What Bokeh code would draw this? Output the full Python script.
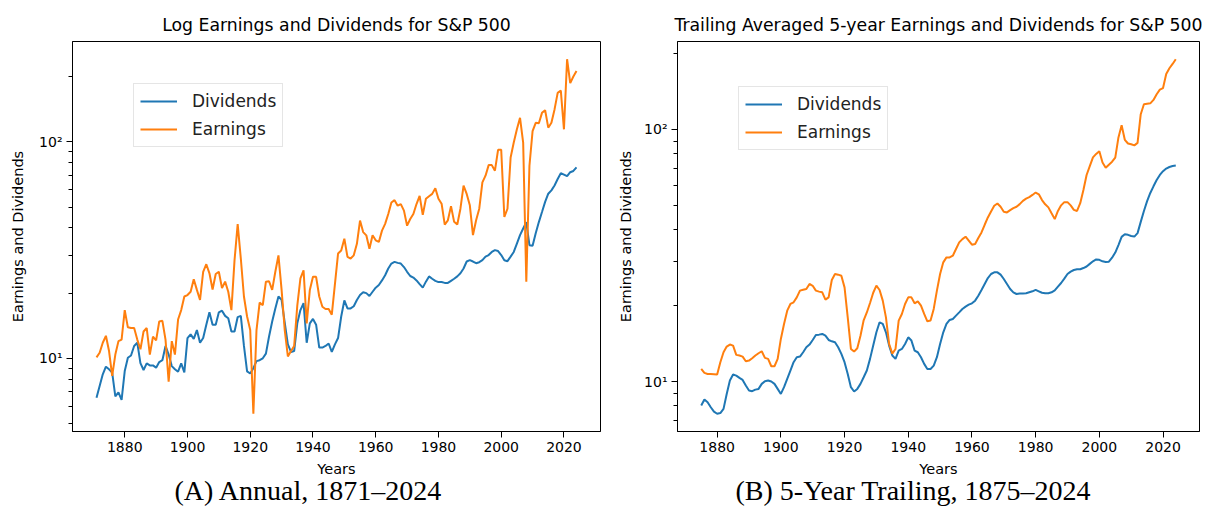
import math
from bokeh.plotting import figure
from bokeh.models import (Range1d, FixedTicker, SingleIntervalTicker, Legend,
                          LegendItem, Title)
from bokeh.layouts import row
from bokeh.embed import file_html
from bokeh.resources import INLINE

# ---------------- data ----------------
years_annual = list(range(1871, 2025))
dividends_annual = [
    6.57, 7.45, 8.43, 9.14, 8.89, 8.58, 6.66, 6.95, 6.43, 8.73,
    10.05, 10.3, 11.4, 11.8, 9.5, 8.83, 9.47, 9.27, 9.27, 9.05,
    9.6, 9.8, 11.4, 10.4, 9.2, 8.9, 8.67, 9.47, 8.6, 12.4,
    12.9, 12.3, 13.5, 11.8, 12.4, 14.3, 16.3, 14.3, 14.3, 16.3,
    16.6, 15.7, 15.3, 13.3, 13.3, 15.5, 15.7, 11.4, 8.7, 8.5,
    9.0, 9.7, 9.8, 10.0, 10.5, 12.6, 14.8, 17.0, 19.3, 18.6,
    14.6, 11.6, 10.7, 10.8, 14.5, 16.7, 18.0, 11.8, 14.5, 15.2,
    14.3, 11.2, 11.2, 11.4, 11.7, 10.7, 11.6, 12.4, 15.6, 18.5,
    17.0, 17.0, 17.4, 18.6, 19.6, 20.2, 20.0, 19.4, 20.3, 21.2,
    21.8, 22.9, 24.2, 26.0, 27.4, 27.9, 27.6, 27.4, 26.4, 25.1,
    24.0, 23.6, 22.9, 22.0, 21.2, 22.6, 23.9, 23.3, 22.8, 22.5,
    22.5, 22.3, 22.3, 22.8, 23.3, 23.9, 24.7, 26.0, 28.0, 28.4,
    28.0, 27.5, 27.8, 28.4, 29.5, 30.0, 31.0, 31.6, 31.3, 30.0,
    28.4, 28.1, 29.5, 31.0, 33.9, 37.1, 39.8, 42.6, 33.3, 33.1,
    37.8, 42.6, 47.4, 52.8, 57.6, 59.7, 62.9, 67.4, 71.6, 70.6,
    69.4, 72.4, 73.4, 76.2,
]
earnings_annual = [
    10.1, 10.6, 11.8, 12.7, 10.8, 8.3, 10.4, 12.0, 12.2, 16.7,
    13.9, 13.8, 13.8, 12.2, 11.0, 13.3, 13.8, 10.4, 12.6, 12.1,
    14.8, 14.9, 12.2, 7.8, 12.0, 10.4, 15.1, 16.7, 19.3, 19.6,
    20.3, 23.2, 20.7, 18.6, 25.1, 27.2, 24.7, 20.8, 24.5, 25.1,
    21.1, 22.6, 20.3, 16.7, 28.4, 41.7, 28.9, 19.3, 15.6, 13.5,
    5.54, 13.5, 18.1, 17.6, 22.6, 22.7, 20.7, 25.1, 29.9, 20.7,
    13.5, 10.2, 10.8, 11.4, 17.5, 23.4, 25.5, 14.5, 20.7, 23.8,
    23.8, 19.3, 17.3, 16.9, 16.9, 15.9, 22.0, 30.5, 31.5, 35.7,
    29.4, 28.9, 29.9, 33.8, 43.3, 38.3, 37.0, 32.1, 37.0, 35.1,
    34.5, 38.9, 41.8, 46.4, 52.5, 53.8, 50.7, 51.6, 48.1, 41.0,
    44.0, 46.4, 51.6, 56.3, 46.0, 54.6, 56.1, 57.5, 61.1, 54.6,
    51.8, 41.5, 43.4, 50.5, 42.7, 41.5, 49.1, 62.8, 57.5, 50.9,
    37.1, 43.4, 49.1, 65.0, 69.8, 78.1, 78.1, 73.6, 91.9, 91.9,
    45.0, 49.1, 84.7, 99.3, 114.3, 129.2, 99.3, 22.6, 77.6, 112.2,
    122.5, 122.0, 136.2, 140.2, 116.3, 122.5, 141.3, 168.4, 172.6, 114.3,
    241.0, 187.0, 200.6, 212.7,
]

years_trailing = list(range(1875, 2025))
dividends_trailing = [
    8.04, 8.49, 8.28, 7.91, 7.6, 7.45, 7.5, 7.79, 8.93, 10.09,
    10.66, 10.56, 10.34, 10.15, 9.64, 9.21, 9.16, 9.29, 9.35, 9.79,
    10.03, 10.09, 10.0, 9.79, 9.35, 8.93, 9.5, 10.25, 11.06, 11.93,
    12.49, 12.56, 13.07, 13.68, 14.02, 14.62, 15.31, 15.35, 15.45, 15.2,
    14.62, 14.44, 14.32, 13.68, 12.87, 11.93, 10.72, 9.5, 9.13, 9.35,
    9.79, 10.4, 11.06, 12.3, 13.89, 15.68, 17.18, 16.92, 15.68, 13.89,
    12.68, 12.3, 13.27, 13.47, 14.09, 14.98, 14.54, 13.27, 13.07, 12.49,
    11.75, 11.22, 11.22, 11.57, 12.49, 14.09, 15.68, 16.92, 17.55, 17.71,
    18.26, 18.82, 19.41, 19.83, 20.18, 20.43, 20.94, 21.91, 23.08, 24.38,
    25.74, 26.71, 27.12, 27.12, 26.55, 25.51, 24.38, 23.29, 22.59, 22.25,
    22.35, 22.35, 22.4, 22.6, 22.8, 23.1, 22.8, 22.5, 22.4, 22.4,
    22.6, 23.0, 23.8, 24.6, 25.6, 26.7, 27.3, 27.7, 27.9, 27.9,
    28.2, 28.6, 29.3, 30.0, 30.5, 30.4, 30.0, 29.8, 29.9, 31.0,
    32.5, 34.8, 37.5, 38.4, 38.2, 37.8, 37.6, 38.8, 43.0, 47.5,
    52.0, 56.0, 59.5, 63.0, 66.0, 68.3, 70.0, 71.0, 71.6, 71.9,
]
earnings_trailing = [
    11.22, 10.82, 10.72, 10.72, 10.7, 10.66, 11.93, 13.07, 13.76, 14.02,
    13.89, 12.76, 12.68, 12.56, 12.04, 12.11, 12.37, 12.68, 12.95, 13.19,
    12.41, 12.3, 11.5, 11.5, 12.3, 14.76, 16.92, 19.11, 20.31, 20.62,
    21.58, 22.94, 23.14, 23.28, 24.38, 23.99, 22.94, 22.74, 22.6, 21.14,
    21.58, 25.28, 26.71, 26.55, 26.3, 23.64, 17.98, 13.47, 13.15, 13.55,
    15.2, 17.5, 18.8, 20.5, 22.5, 24.0, 23.08, 20.94, 17.98, 14.09,
    12.9, 13.47, 17.45, 18.54, 20.31, 21.58, 21.58, 20.43, 20.81, 20.0,
    18.54, 17.34, 17.45, 19.41, 22.94, 26.71, 29.71, 31.09, 31.09, 31.57,
    33.55, 35.65, 36.73, 37.54, 36.2, 34.9, 35.12, 37.09, 39.05, 41.88,
    44.77, 47.3, 49.81, 50.88, 49.36, 47.15, 46.88, 47.86, 48.75, 49.36,
    50.57, 52.12, 53.2, 53.9, 55.0, 56.2, 55.3, 52.5, 50.5, 49.1,
    46.5, 44.1, 47.5, 50.0, 51.5, 51.5, 50.0, 48.0, 47.5, 51.0,
    57.5, 66.0, 71.5, 77.5, 80.0, 82.0, 74.0, 70.5, 72.5, 74.5,
    77.4, 93.0, 104.0, 91.0, 88.0, 87.4, 86.5, 88.5, 115.0, 126.0,
    126.5, 127.0, 131.0, 138.0, 144.0, 146.0, 166.0, 175.0, 182.0, 190.0,
]

series_labels = ["Dividends", "Earnings"]
titles = ["Log Earnings and Dividends for S&P 500",
          "Trailing Averaged 5-year Earnings and Dividends for S&P 500"]
captions = ["(A) Annual, 1871\u20132024", "(B) 5-Year Trailing, 1875\u20132024"]
x_label = "Years"
y_label = "Earnings and Dividends"

BLUE = "#1f77b4"
ORANGE = "#ff7f0e"
FONT = "DejaVu Sans"


def lin_range(vals):
    lo, hi = min(vals), max(vals)
    m = (hi - lo) * 0.05
    return lo - m, hi + m


def log_range(*series):
    lo = min(min(s) for s in series)
    hi = max(max(s) for s in series)
    a, b = math.log10(lo), math.log10(hi)
    m = (b - a) * 0.05
    return 10 ** (a - m), 10 ** (b + m)


def make_panel(years, divs, earns, title, caption, width, height,
               b_left, b_right, b_top, b_bottom, legend_loc, cap_offset,
               ylabel_standoff):
    x0, x1 = lin_range(years)
    y0, y1 = log_range(divs, earns)
    p = figure(width=width, height=height, y_axis_type="log",
               x_range=Range1d(x0, x1), y_range=Range1d(y0, y1),
               output_backend="svg", toolbar_location=None,
               min_border_left=b_left, min_border_right=b_right,
               min_border_top=b_top, min_border_bottom=b_bottom)
    p.background_fill_color = "white"
    p.border_fill_color = "white"
    p.outline_line_color = "black"
    p.outline_line_width = 1
    p.xgrid.visible = False
    p.ygrid.visible = False

    p.title.text = title
    p.title.text_font = FONT
    p.title.text_font_size = "17.3px"
    p.title.text_font_style = "normal"
    p.title.text_color = "black"
    p.title.align = "center"
    p.title.standoff = 14

    p.xaxis.ticker = SingleIntervalTicker(interval=20, num_minor_ticks=0)
    minors = [v * 10 ** k for k in range(0, 3) for v in range(2, 10)]
    minors = [m for m in minors if y0 <= m <= y1 and m not in (10, 100)]
    p.yaxis.ticker = FixedTicker(ticks=[10, 100], minor_ticks=minors)
    p.yaxis.major_label_overrides = {10: "10\u00b9", 100: "10\u00b2"}

    for ax in (p.xaxis, p.yaxis):
        ax.axis_line_color = "black"
        ax.major_tick_line_color = "black"
        ax.minor_tick_line_color = "black"
        ax.major_tick_out = 6
        ax.major_tick_in = 0
        ax.minor_tick_out = 4
        ax.minor_tick_in = 0
        ax.major_label_text_font = FONT
        ax.major_label_text_font_size = "14px"
        ax.major_label_text_color = "black"
        ax.axis_label_text_font = FONT
        ax.axis_label_text_font_size = "14.5px"
        ax.axis_label_text_font_style = "normal"
        ax.axis_label_text_color = "black"
        ax.major_label_standoff = 4
    p.xaxis.axis_label_standoff = 6
    p.yaxis.axis_label_standoff = ylabel_standoff
    p.xaxis.axis_label = x_label
    p.yaxis.axis_label = y_label

    r_div = p.line(years, divs, line_color=BLUE, line_width=2)
    r_earn = p.line(years, earns, line_color=ORANGE, line_width=2)

    legend = Legend(items=[LegendItem(label=series_labels[0], renderers=[r_div]),
                           LegendItem(label=series_labels[1], renderers=[r_earn])],
                    location=legend_loc)
    legend.label_text_font = FONT
    legend.label_text_font_size = "17px"
    legend.label_text_color = "#222222"
    legend.glyph_width = 37
    legend.glyph_height = 22
    legend.label_height = 22
    legend.label_standoff = 15
    legend.padding = 6
    legend.spacing = 6
    legend.margin = 0
    legend.border_line_color = "#cccccc"
    legend.border_line_width = 1
    legend.background_fill_alpha = 0.8
    p.add_layout(legend, "center")

    cap = Title(text=caption, align="left", offset=cap_offset,
                vertical_align="top",
                text_font="Liberation Serif", text_font_size="28px",
                text_font_style="normal", text_color="black", standoff=-10)
    p.add_layout(cap, "below")
    return p


p1 = make_panel(years_annual, dividends_annual, earnings_annual,
                titles[0], captions[0], width=615, height=524,
                b_left=72, b_right=15, b_top=38, b_bottom=93,
                legend_loc=(61, 284), cap_offset=102, ylabel_standoff=10)
p2 = make_panel(years_trailing, dividends_trailing, earnings_trailing,
                titles[1], captions[1], width=589, height=524,
                b_left=62, b_right=5, b_top=41, b_bottom=93,
                legend_loc=(61, 281), cap_offset=58, ylabel_standoff=7)

layout = row(p1, p2)
open("out.html", "w").write(file_html(layout, INLINE))
